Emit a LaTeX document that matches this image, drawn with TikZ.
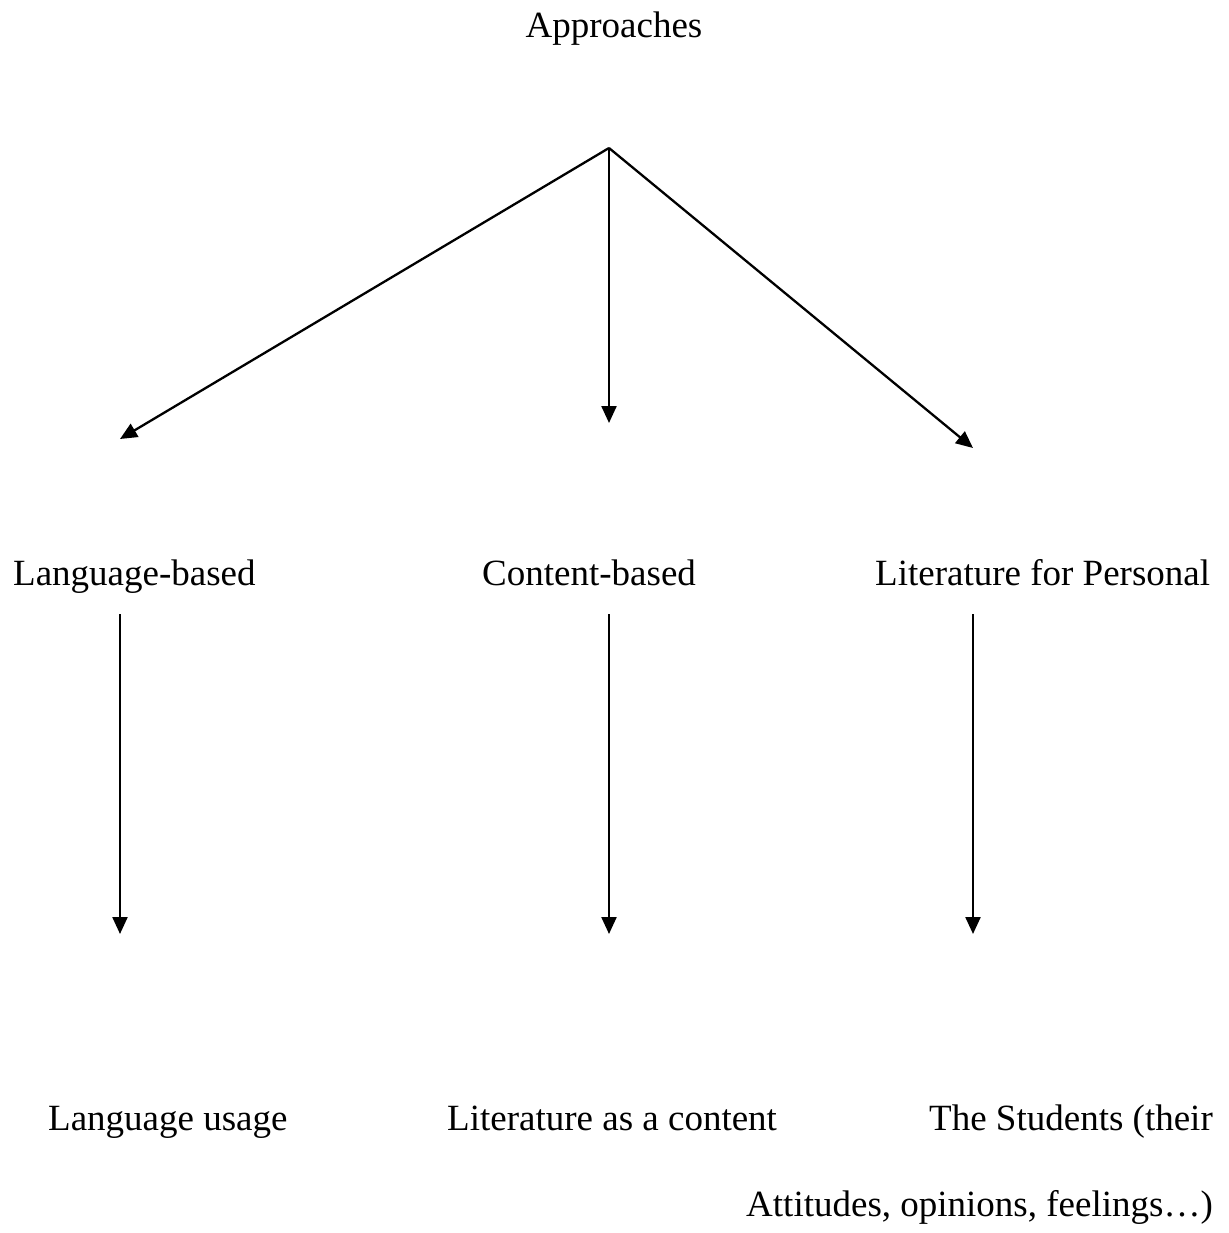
\documentclass[tikz,border=0pt]{standalone}
\usepackage{fontspec}
\setmainfont{Liberation Serif}
\usetikzlibrary{arrows.meta}
\begin{document}
\begin{tikzpicture}[x=1pt,y=-1pt,
  lbl/.style={inner sep=0pt,anchor=base,font=\fontsize{37}{44}\selectfont},
  arr/.style={line width=2.3pt,-{Triangle[length=17pt,width=15pt]}}]
\useasboundingbox (0,0) rectangle (1228,1233);
\node[lbl] (root) at (614,38) {Approaches};
\coordinate (apex) at (609,148);
\coordinate (e1) at (120,439);
\coordinate (e2) at (609,423);
\coordinate (e3) at (973,448);
\draw[arr] (apex) -- (e1);
\draw[arr] (apex) -- (e2);
\draw[arr] (apex) -- (e3);
\node[lbl,anchor=base west] (lb) at (13,585) {Language-based};
\node[lbl,anchor=base west] (cb) at (482,585) {Content-based};
\node[lbl,anchor=base west] (lp) at (875,585) {Literature for Personal};
\coordinate (s1) at (120,614);
\coordinate (s2) at (609,614);
\coordinate (s3) at (973,614);
\coordinate (t1) at (120,934);
\coordinate (t2) at (609,934);
\coordinate (t3) at (973,934);
\draw[arr] (s1) -- (t1);
\draw[arr] (s2) -- (t2);
\draw[arr] (s3) -- (t3);
\node[lbl,anchor=base west] (lu) at (48,1130) {Language usage};
\node[lbl,anchor=base west] (lc) at (447,1130) {Literature as a content};
\node[lbl,anchor=base east] (st) at (1213,1130) {The Students (their};
\node[lbl,anchor=base east] (at) at (1213,1216) {Attitudes, opinions, feelings\dots)};
\end{tikzpicture}
\end{document}
